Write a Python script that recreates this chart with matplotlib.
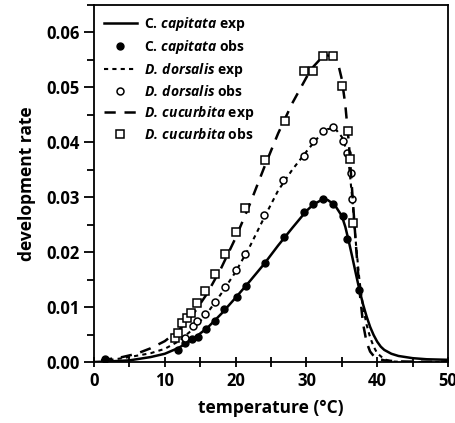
import matplotlib
matplotlib.use("Agg")
from matplotlib import pyplot as plt
from matplotlib.ticker import MultipleLocator

plt.rcParams['font.family'] = ['Open Sans', 'DejaVu Sans']
plt.rcParams['font.weight'] = 'bold'
plt.rcParams['mathtext.fontset'] = 'custom'
plt.rcParams['mathtext.bfit'] = 'Open Sans:italic:bold'
plt.rcParams['mathtext.it'] = 'Open Sans:italic:bold'

# observed development rates
capitata_obs_t = [1.5, 11.8, 12.9, 13.8, 14.7, 15.8, 17.1, 18.4, 20.2, 21.5,
                  24.2, 26.9, 29.7, 30.9, 32.3, 33.7, 35.1, 35.8, 37.5]
capitata_obs_r = [0.0006, 0.0022, 0.0034, 0.0041, 0.0046, 0.0060, 0.0075,
                  0.0096, 0.0118, 0.0139, 0.0181, 0.0228, 0.0274, 0.0288,
                  0.0297, 0.0288, 0.0266, 0.0224, 0.0131]

dorsalis_obs_t = [12.9, 14.0, 14.5, 15.7, 17.1, 18.5, 20.1, 21.3, 24.0, 26.7,
                  29.7, 30.9, 32.4, 33.8, 35.1, 35.8, 36.3, 36.5]
dorsalis_obs_r = [0.0044, 0.0065, 0.0074, 0.0087, 0.0109, 0.0137, 0.0167,
                  0.0197, 0.0268, 0.0331, 0.0375, 0.0402, 0.0420, 0.0428,
                  0.0402, 0.0380, 0.0345, 0.0297]

cucurbita_obs_t = [11.4, 11.9, 12.4, 13.1, 13.7, 14.6, 15.7, 17.1, 18.5, 20.1,
                   21.3, 24.2, 27.0, 29.7, 30.9, 32.4, 33.8, 35.0, 35.9, 36.2,
                   36.6]
cucurbita_obs_r = [0.0043, 0.0053, 0.0071, 0.0080, 0.0090, 0.0108, 0.0130,
                   0.0161, 0.0197, 0.0236, 0.0280, 0.0367, 0.0438, 0.0530,
                   0.0530, 0.0557, 0.0557, 0.0502, 0.0420, 0.0369, 0.0253]

# expected (model) curves
capitata_exp_t = [0, 2, 5, 8, 10, 12, 14, 16, 18, 20, 22, 24, 26, 28, 30, 31,
                  32, 33, 34, 35, 35.5, 36, 36.5, 37, 37.5, 38, 38.5, 39, 39.5,
                  40, 40.5, 41, 42, 43, 44, 45, 47, 50]
capitata_exp_r = [0.0000, 0.0001, 0.0003, 0.0009, 0.0015, 0.0026, 0.0042,
                  0.0062, 0.0088, 0.0117, 0.0147, 0.0178, 0.0212, 0.0244,
                  0.0275, 0.0287, 0.0294, 0.0295, 0.0286, 0.0266, 0.0246,
                  0.0219, 0.0190, 0.0160, 0.0131, 0.0105, 0.0083, 0.0064,
                  0.0049, 0.0037, 0.0028, 0.0022, 0.0015, 0.0011, 0.0009,
                  0.0007, 0.0005, 0.0004]

dorsalis_exp_t = [1, 3, 5, 8, 10, 12, 14, 16, 18, 20, 22, 24, 26, 28, 30, 31,
                  32, 33, 34, 35, 35.5, 36, 36.5, 37, 37.5, 38, 38.5, 39, 39.5,
                  40, 41, 42, 44, 50]
dorsalis_exp_r = [0.0002, 0.0005, 0.0009, 0.0016, 0.0024, 0.0038, 0.0060,
                  0.0089, 0.0125, 0.0164, 0.0210, 0.0262, 0.0312, 0.0350,
                  0.0383, 0.0399, 0.0414, 0.0424, 0.0426, 0.0410, 0.0392,
                  0.0360, 0.0295, 0.0215, 0.0148, 0.0100, 0.0068, 0.0045,
                  0.0028, 0.0016, 0.0005, 0.0001, 0.0, 0.0]

cucurbita_exp_t = [1, 2, 4, 6, 8, 10, 12, 14, 16, 18, 20, 22, 24, 26, 28, 30,
                   31, 32, 33, 34, 34.5, 35, 35.5, 36, 36.5, 37, 37.5, 38,
                   38.5, 39, 39.5, 40, 41, 43, 50]
cucurbita_exp_r = [0.0003, 0.0005, 0.0009, 0.0015, 0.0025, 0.0038, 0.0058,
                   0.0087, 0.0125, 0.0172, 0.0226, 0.0287, 0.0353, 0.0416,
                   0.0471, 0.0518, 0.0538, 0.0552, 0.0558, 0.0556, 0.0542,
                   0.0515, 0.0468, 0.0398, 0.0305, 0.0212, 0.0130, 0.0070,
                   0.0036, 0.0019, 0.0011, 0.0006, 0.0003, 0.0001, 0.0]

fig = plt.figure(figsize=(4.55, 4.23), dpi=100)
ax = fig.add_axes([0.2066, 0.1442, 0.7780, 0.8440])

ax.plot(capitata_exp_t, capitata_exp_r, color='black', lw=1.8,
        label=r'C. $\mathbfit{capitata}$ exp')
ax.plot(capitata_obs_t, capitata_obs_r, 'o', color='black', ms=5,
        label=r'C. $\mathbfit{capitata}$ obs')
ax.plot(dorsalis_exp_t, dorsalis_exp_r, color='black', lw=1.5,
        ls=(0, (2, 2)), label=r'$\mathbfit{D.\,dorsalis}$ exp')
ax.plot(dorsalis_obs_t, dorsalis_obs_r, 'o', mfc='white', mec='black',
        mew=1.1, ms=5, label=r'$\mathbfit{D.\,dorsalis}$ obs')
ax.plot(cucurbita_exp_t, cucurbita_exp_r, color='black', lw=1.8,
        ls=(0, (4.5, 3.5)), label=r'$\mathbfit{D.\,cucurbita}$ exp')
ax.plot(cucurbita_obs_t, cucurbita_obs_r, 's', mfc='white', mec='black',
        mew=1.1, ms=6, label=r'$\mathbfit{D.\,cucurbita}$ obs')

ax.set_xlim(0, 50)
ax.set_ylim(0, 0.065)
ax.xaxis.set_major_locator(MultipleLocator(10))
ax.xaxis.set_minor_locator(MultipleLocator(5))
ax.yaxis.set_major_locator(MultipleLocator(0.01))
ax.yaxis.set_minor_locator(MultipleLocator(0.005))
ax.yaxis.set_major_formatter(lambda v, p: f'{v:.2f}')

ax.tick_params(axis='x', which='both', direction='inout', length=7,
               width=1.3, labelsize=12, pad=4)
ax.tick_params(axis='y', which='major', direction='out', length=7,
               width=1.3, labelsize=12)
ax.tick_params(axis='y', which='minor', direction='out', length=5, width=1.3)
for s in ax.spines.values():
    s.set_linewidth(1.3)

ax.set_xlabel('temperature (°C)', fontsize=12.5, fontweight='bold',
              labelpad=6)
ax.set_ylabel('development rate', fontsize=12.5, fontweight='bold',
              labelpad=7)

ax.legend(loc='upper left', frameon=False, numpoints=1,
          handlelength=2.4, handletextpad=0.5, labelspacing=0.36,
          borderaxespad=0.3, prop={'weight': 'bold', 'size': 10})

fig.savefig('out.png', dpi=100)
